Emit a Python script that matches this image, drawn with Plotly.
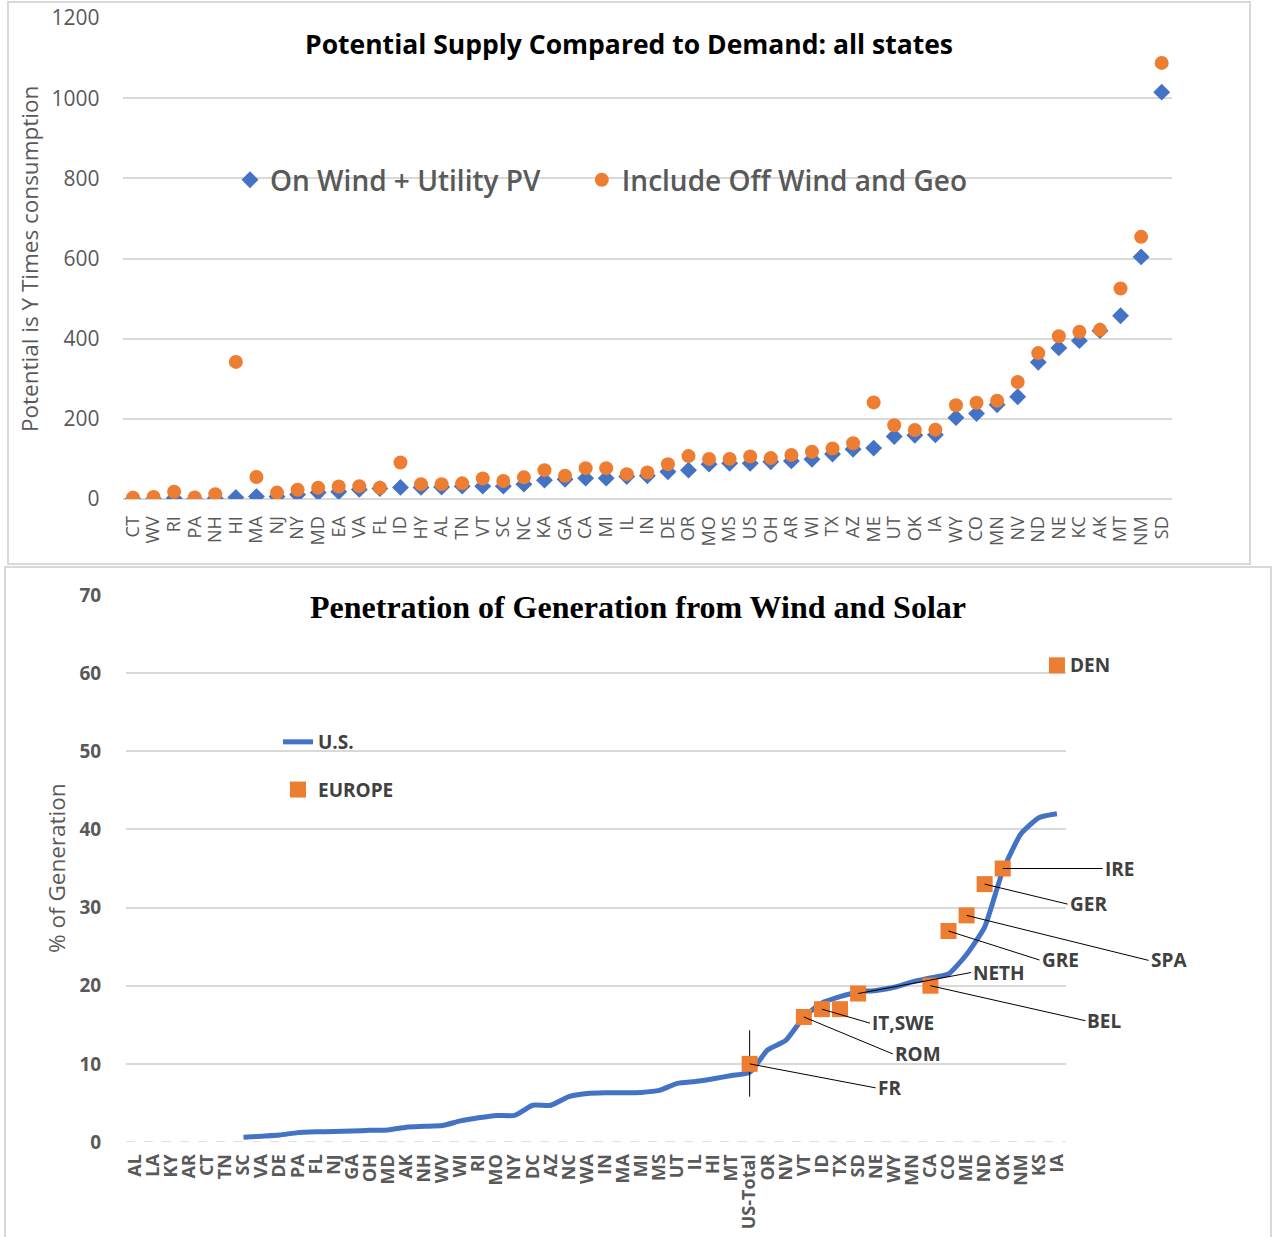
import plotly.graph_objects as go

# ---------------- Data: top chart ----------------
top_states = ["CT","WV","RI","PA","NH","HI","MA","NJ","NY","MD","EA","VA","FL","ID","HY","AL","TN","VT","SC","NC",
              "KA","GA","CA","MI","IL","IN","DE","OR","MO","MS","US","OH","AR","WI","TX","AZ","ME","UT","OK","IA",
              "WY","CO","MN","NV","ND","NE","KC","AK","MT","NM","SD"]
on_wind_pv = [0, 0, 2, 0, 2, 4, 6, 6, 11, 16, 18, 24, 26, 29, 29, 30, 32, 32, 32, 37,
              47, 49, 52, 52, 56, 58, 68, 72, 87, 89, 89, 93, 95, 99, 112, 124, 127, 156, 159, 160,
              203, 213, 235, 255, 341, 377, 395, 420, 457, 604, 1015]
incl_off_geo = [3, 5, 18, 4, 12, 342, 55, 16, 23, 28, 31, 32, 28, 91, 37, 37, 39, 51, 45, 54,
                72, 58, 77, 77, 62, 66, 87, 107, 100, 100, 106, 102, 110, 118, 126, 139, 241, 184, 172, 173,
                234, 240, 245, 292, 364, 406, 417, 422, 525, 654, 1088]

# ---------------- Data: bottom chart ----------------
bot_states = ["AL","LA","KY","AR","CT","TN","SC","VA","DE","PA","FL","NJ","GA","OH","MD","AK","NH","WV","WI","RI",
              "MO","NY","DC","AZ","NC","WA","IN","MA","MI","MS","UT","IL","HI","MT","US-Total","OR","NV","VT","ID","TX",
              "SD","NE","WY","MN","CA","CO","ME","ND","OK","NM","KS","IA"]
us_pct = [None, None, None, None, None, None, 0.6, 0.75, 0.9, 1.2, 1.3, 1.35, 1.4, 1.5, 1.55, 1.9, 2.0, 2.1, 2.7, 3.1,
          3.4, 3.4, 4.7, 4.7, 5.8, 6.2, 6.3, 6.3, 6.35, 6.6, 7.5, 7.75, 8.1, 8.5, 8.9, 11.8, 13.0, 16.0, 17.8, 18.6,
          19.2, 19.4, 19.8, 20.5, 21.0, 21.5, 24.0, 27.5, 34.7, 39.4, 41.5, 42.0]
eu_country = ["FR", "ROM", "IT", "SWE", "NETH", "BEL", "GRE", "SPA", "GER", "IRE", "DEN"]
eu_pos = ["US-Total", "VT", "ID", "TX", "SD", "CA", "CO", "ME", "ND", "OK", "IA"]
eu_pct = [10, 16, 17, 17, 19, 20, 27, 29, 33, 35, 61]
eu_err_plus = [4.3, 0, 0, 0, 0, 0, 0, 0, 0, 0, 0]
eu_err_minus = [4.2, 0, 0, 0, 0, 0, 0, 0, 0, 0, 0]
# label text and leader offsets (px) for each labelled country
eu_labels = {"FR": ("FR", 126, 24), "ROM": ("ROM", 89, 37), "IT": ("IT,SWE", 48, 14),
             "NETH": ("NETH", 113, -21), "BEL": ("BEL", 155, 35), "GRE": ("GRE", 91, 29),
             "SPA": ("SPA", 182, 45), "GER": ("GER", 83, 20), "IRE": ("IRE", 100, 0)}

BLUE = "#4472C4"
ORANGE = "#ED7D31"
GRAY = "#595959"
DARK = "#404040"
GRID = "#D9D9D9"
W, H = 1274, 1237
NBSP = "\u00a0"

def px_x(p):
    return p / W

def px_y(p):
    return 1 - p / H

fig = go.Figure()

# top chart traces
fig.add_trace(go.Scatter(x=top_states, y=on_wind_pv, mode="markers", name="On Wind + Utility PV" + NBSP * 5,
                         marker=dict(symbol="diamond", size=13, color=BLUE),
                         xaxis="x", yaxis="y", legend="legend"))
fig.add_trace(go.Scatter(x=top_states, y=incl_off_geo, mode="markers", name="Include Off Wind and Geo",
                         marker=dict(symbol="circle", size=14, color=ORANGE),
                         xaxis="x", yaxis="y", legend="legend"))

# bottom chart traces
fig.add_trace(go.Scatter(x=bot_states, y=us_pct, mode="lines", name="U.S.",
                         line=dict(color=BLUE, width=5, shape="spline", smoothing=0.5),
                         xaxis="x2", yaxis="y2", legend="legend2", legendgroup="us"))
fig.add_trace(go.Scatter(x=eu_pos, y=eu_pct, mode="markers", name="EUROPE",
                         marker=dict(symbol="square", size=16, color=ORANGE),
                         error_y=dict(type="data", symmetric=False, array=eu_err_plus,
                                      arrayminus=eu_err_minus, width=0, color="black", thickness=1),
                         xaxis="x2", yaxis="y2", legend="legend2", legendgroup="eu"))

LBL_FONT = dict(family="Open Sans", size=19, color=DARK, weight="bold")
annotations = []
for name, pos, val in zip(eu_country, eu_pos, eu_pct):
    if name in eu_labels:
        txt, ax, ay = eu_labels[name]
        annotations.append(dict(x=pos, y=val, xref="x2", yref="y2", text=txt,
                                showarrow=True, arrowhead=0, arrowwidth=1, arrowcolor="black",
                                ax=ax, ay=ay, xanchor="left", yanchor="middle", standoff=0,
                                font=LBL_FONT))
    elif name == "DEN":
        annotations.append(dict(x=pos, y=val, xref="x2", yref="y2", text="DEN", showarrow=False,
                                xanchor="left", yanchor="middle", xshift=11, font=LBL_FONT))

# titles and axis titles
annotations += [
    dict(text="<b>Potential Supply Compared to Demand: all states</b>", x=px_x(629), y=px_y(44),
         xref="paper", yref="paper", showarrow=False, xanchor="center", yanchor="middle",
         font=dict(family="Open Sans", size=26.5, color="black")),
    dict(text="Potential is Y Times consumption", x=px_x(30), y=px_y(259), xref="paper", yref="paper",
         showarrow=False, textangle=-90, xanchor="center", yanchor="middle",
         font=dict(family="Open Sans", size=22.5, color=GRAY)),
    dict(text="<b>Penetration of Generation from Wind and Solar</b>", x=px_x(638), y=px_y(607),
         xref="paper", yref="paper", showarrow=False, xanchor="center", yanchor="middle",
         font=dict(family="Liberation Serif", size=32, color="black")),
    dict(text="% of Generation", x=px_x(56), y=px_y(868), xref="paper", yref="paper",
         showarrow=False, textangle=-90, xanchor="center", yanchor="middle",
         font=dict(family="Open Sans", size=22.5, color=GRAY)),
]

shapes = [
    dict(type="rect", xref="paper", yref="paper", x0=px_x(8), x1=px_x(1250), y0=px_y(564), y1=px_y(2),
         line=dict(color=GRID, width=2), layer="below"),
    dict(type="rect", xref="paper", yref="paper", x0=px_x(5), x1=px_x(1271), y0=px_y(1245), y1=px_y(567),
         line=dict(color=GRID, width=2), layer="below"),
    dict(type="line", xref="x2 domain", yref="y2", x0=0, x1=1, y0=0, y1=0,
         line=dict(color="#F4B183", width=1, dash="dash"), layer="below"),
]

fig.update_layout(
    width=W, height=H, margin=dict(l=0, r=0, t=0, b=0, autoexpand=False),
    paper_bgcolor="white", plot_bgcolor="white",
    font=dict(family="Open Sans", color=GRAY),
    xaxis=dict(domain=[px_x(122.7), px_x(1172)], type="category", range=[-0.5, len(top_states) - 0.5],
               tickmode="linear", tick0=0, dtick=1, automargin=False,
               tickangle=-90, tickfont=dict(size=18, color=GRAY), showgrid=False, showline=False,
               ticks="outside", ticklen=9, tickcolor="rgba(0,0,0,0)", anchor="y"),
    yaxis=dict(domain=[px_y(499), px_y(18)], range=[0, 1200], dtick=200, showgrid=True, gridcolor=GRID,
               gridwidth=1.5, zeroline=True, zerolinecolor=GRID, zerolinewidth=1.5, automargin=False,
               tickfont=dict(size=21, color=GRAY), ticks="outside", ticklen=18,
               tickcolor="rgba(0,0,0,0)", anchor="x"),
    xaxis2=dict(domain=[px_x(126), px_x(1066)], type="category", range=[-0.5, len(bot_states) - 0.5],
                tickmode="linear", tick0=0, dtick=1, automargin=False,
                tickangle=-90, tickfont=dict(size=18, color=GRAY, weight="bold"), showgrid=False,
                showline=False, ticks="outside", ticklen=4, tickcolor="rgba(0,0,0,0)", anchor="y2"),
    yaxis2=dict(domain=[px_y(1142), px_y(595)], range=[0, 70], dtick=10, showgrid=True, gridcolor=GRID,
                gridwidth=1.5, zeroline=False, automargin=False,
                tickfont=dict(size=19, color=GRAY, weight="bold"), ticks="outside", ticklen=20,
                tickcolor="rgba(0,0,0,0)", anchor="x2"),
    legend=dict(orientation="h", x=px_x(230), y=px_y(180), xanchor="left", yanchor="middle",
                bgcolor="rgba(0,0,0,0)", font=dict(size=28, color=GRAY, weight=600)),
    legend2=dict(orientation="v", x=px_x(278), y=px_y(766), xanchor="left", yanchor="middle",
                 bgcolor="rgba(0,0,0,0)", font=dict(size=19, color=DARK, weight="bold"),
                 tracegroupgap=20, traceorder="grouped"),
    annotations=annotations,
    shapes=shapes,
)

post = """
document.documentElement.style.margin='0';
document.documentElement.style.overflow='hidden';
document.body.style.margin='0';
document.body.style.overflow='hidden';
"""
fig.write_html("out.html", post_script=post, config={"displayModeBar": False})
